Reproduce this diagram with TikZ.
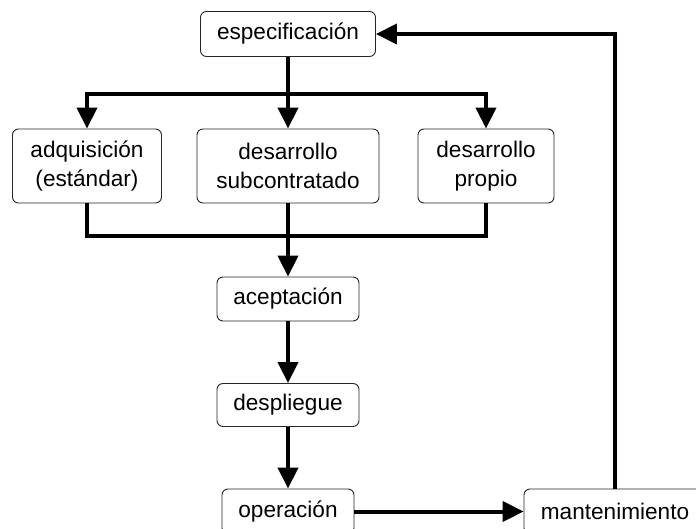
\documentclass[tikz,border=0pt]{standalone}
\usepackage{fontspec}
\setmainfont{Liberation Sans}
\usetikzlibrary{arrows.meta}
\begin{document}
\begin{tikzpicture}[x=1pt,y=1pt,
  box/.style={draw=black!85,line width=0.9pt,rounded corners=6pt,align=center,
    font=\fontsize{22.6}{29}\selectfont,inner sep=0pt,anchor=center},
  conn/.style={line width=4pt},
  arr/.style={line width=4pt,-{Triangle[length=21pt,width=20pt]}}]
\useasboundingbox (0,0) rectangle (696,-529);
\clip (0,0) rectangle (696,-529);
\node[box,minimum width=175,minimum height=45] (esp) at (288,-34) {especificación};
\node[box,minimum width=149,minimum height=74] (adq) at (87,-166) {adquisición\\(estándar)};
\node[box,minimum width=182,minimum height=74] (sub) at (288,-166) {desarrollo\\subcontratado};
\node[box,minimum width=136,minimum height=74] (pro) at (486,-166) {desarrollo\\propio};
\node[box,minimum width=142,minimum height=44] (ace) at (288,-299) {aceptación};
\node[box,minimum width=142,minimum height=43] (des) at (288,-405) {despliegue};
\node[box,minimum width=132,minimum height=45] (op) at (288,-511.5) {operación};
\node[box,minimum width=182,minimum height=45] (man) at (615,-511.5) {mantenimiento};
\coordinate (split) at (288,-94);
\coordinate (merge) at (288,-236);
\draw[arr] (esp.south) -- (sub.north);
\draw[arr] (split) -| (adq.north);
\draw[arr] (split) -| (pro.north);
\draw[conn] (adq.south) |- (merge);
\draw[conn] (pro.south) |- (merge);
\draw[arr] (sub.south) -- (ace.north);
\draw[arr] (ace.south) -- (des.north);
\draw[arr] (des.south) -- (op.north);
\draw[arr] (op.east) -- (man.west);
\draw[arr] (man.north) |- (esp.east);
\end{tikzpicture}
\end{document}
